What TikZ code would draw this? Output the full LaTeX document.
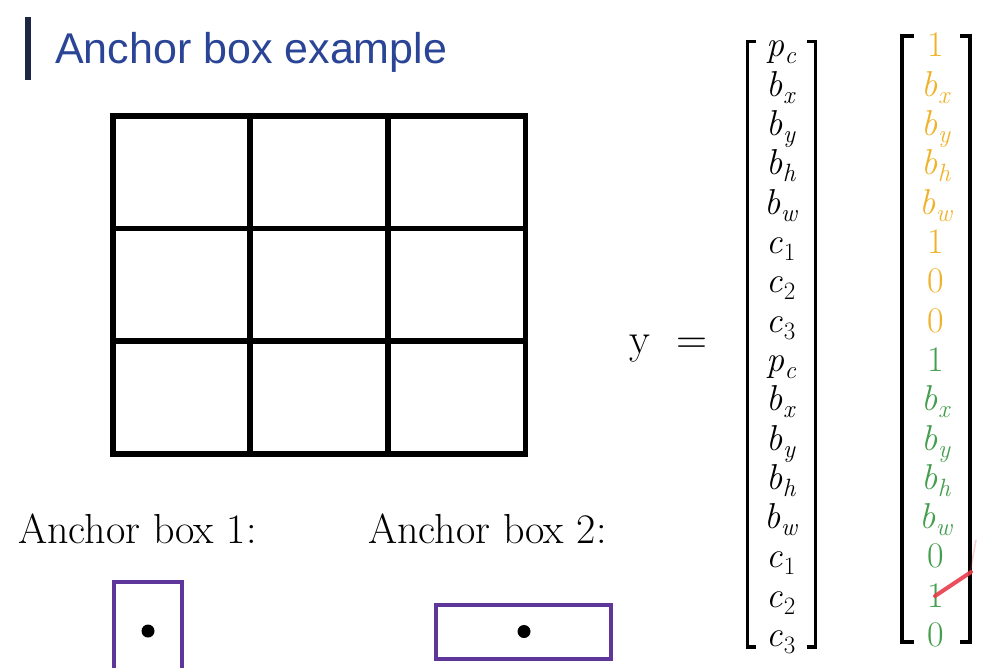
\documentclass[tikz,border=0pt]{standalone}
\usepackage{fontspec}
\newfontfamily\arialfont{Liberation Sans}
\newcommand{\ent}[2]{\textit{#1}\kern0.5pt\raisebox{-7pt}{\fontsize{25}{28}\selectfont\textit{#2}}}
\definecolor{titleblue}{RGB}{42,68,150}
\definecolor{barnavy}{RGB}{30,38,70}
\definecolor{boxpurple}{RGB}{95,55,155}
\definecolor{goldc}{RGB}{240,178,42}
\definecolor{greenc}{RGB}{68,158,78}
\definecolor{penred}{RGB}{232,60,75}
\tikzset{
  gridline/.style={line width=5.8pt, line cap=rect},
  anchorbox/.style={draw=boxpurple, line width=4pt},
  bracket/.style={line width=3.5pt, line cap=butt, line join=miter},
  entry/.style={anchor=base, inner sep=0pt, font=\fontsize{36}{40}\selectfont},
  lbl/.style={anchor=base west, inner sep=0pt, font=\fontsize{42}{48}\selectfont},
  bigeq/.style={anchor=base, inner sep=0pt, font=\fontsize{43}{50}\selectfont},
}
\begin{document}
\begin{tikzpicture}[x=1pt,y=-1pt]
\useasboundingbox (0,0) rectangle (992,668);
\clip (0,0) rectangle (992,668);
% title
\fill[barnavy] (25.3,16.7) rectangle (30.5,80);
\node[anchor=base west, inner sep=0pt, text=titleblue, font=\arialfont\fontsize{43}{50}\selectfont] (title) at (55,63.3) {Anchor box example};
% grid
\draw[gridline] (113.3,116.2) rectangle (525.5,454);
\draw[gridline] (250.3,116.2) -- (250.3,454);
\draw[gridline] (388.2,116.2) -- (388.2,454);
\draw[gridline] (113.3,228.5) -- (525.5,228.5);
\draw[gridline] (113.3,341.3) -- (525.5,341.3);
% anchor boxes
\node[lbl] (lab1) at (18,543) {Anchor box 1:};
\node[lbl] (lab2) at (368,543) {Anchor box 2:};
\draw[anchorbox] (114,581.5) rectangle (182,700);
\fill (148,631) circle (6.5);
\draw[anchorbox] (436,604.7) rectangle (611,658.7);
\fill (524,631.5) circle (6.5);
% y =
\node[bigeq] (yv) at (640,353.5) {y};
\node[bigeq] (eq) at (691.5,353.5) {=};
% left matrix
\foreach \a/\b [count=\i from 0] in {p/c,b/x,b/y,b/h,b/w,c/\upshape 1,c/\upshape 2,c/\upshape 3,p/c,b/x,b/y,b/h,b/w,c/\upshape 1,c/\upshape 2,c/\upshape 3}
  \node[entry] (l\i) at (781,57+39.3*\i) {\ent{\a}{\b}};
\draw[bracket] (756,41.5) -- (747.5,41.5) -- (747.5,647) -- (756,647);
\draw[bracket] (807,41.5) -- (815.5,41.5) -- (815.5,647) -- (807,647);
% right matrix
\foreach \a/\b/\c [count=\i from 0] in {1//goldc,b/x/goldc,b/y/goldc,b/h/goldc,b/w/goldc,1//goldc,0//goldc,0//goldc,1//greenc,b/x/greenc,b/y/greenc,b/h/greenc,b/w/greenc,0//greenc,1//greenc,0//greenc}
  \node[entry, text=\c] (r\i) at (936,57+39.3*\i) {\if\relax\detokenize\expandafter{\b}\relax\a\else\ent{\a}{\b}\fi};
\draw[bracket] (914,36) -- (902,36) -- (902,642) -- (914,642);
\draw[bracket] (960,36) -- (970,36) -- (970,642) -- (960,642);
% pen mark
\draw[penred, opacity=0.25, line width=1.5pt, line cap=round] (970,573) -- (976,540);
\draw[penred, line width=4pt, line cap=round, opacity=0.9] (935,596) .. controls (950,586) .. (971,572);
\end{tikzpicture}
\end{document}
